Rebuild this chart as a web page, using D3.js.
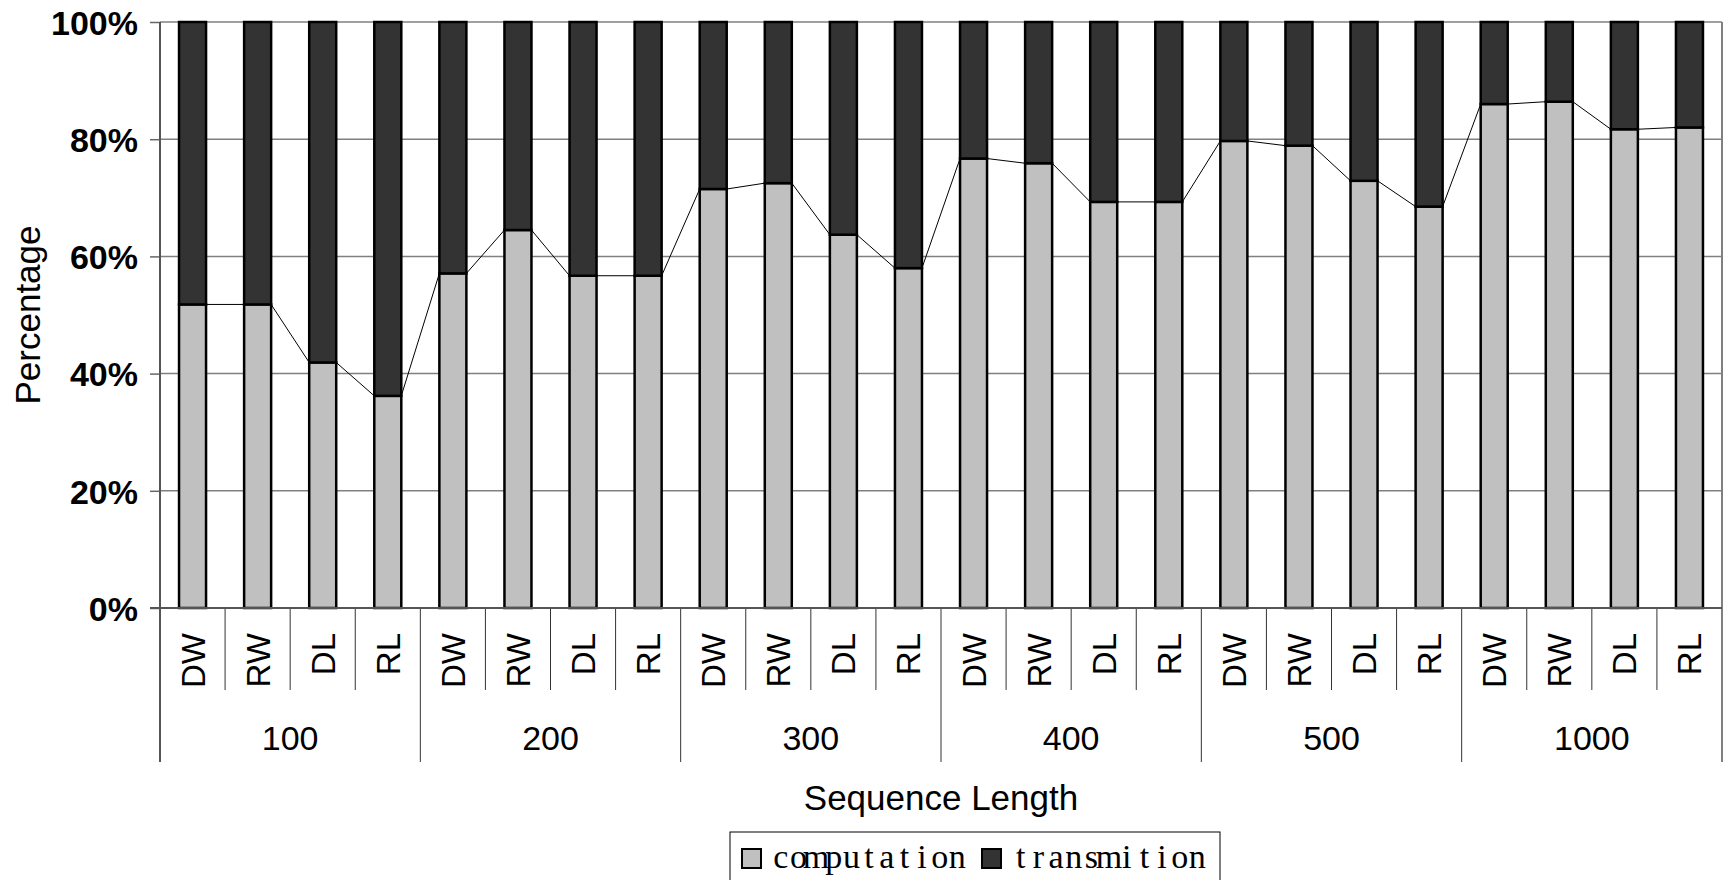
<!DOCTYPE html>
<html>
<head>
<meta charset="utf-8">
<script src="https://cdn.jsdelivr.net/npm/d3@7"></script>
<style>
  html, body { margin: 0; padding: 0; background: #fff; overflow: hidden; }
  svg { display: block; }
</style>
</head>
<body>
<svg id="chart" width="1728" height="880"></svg>
<script>
// ---- data ----
const groups = ["100", "200", "300", "400", "500", "1000"];
const methods = ["DW", "RW", "DL", "RL"];
// computation share (%) per group, in method order DW, RW, DL, RL
const computation100  = [51.8, 51.8, 41.9, 36.2];
const computation200  = [57.1, 64.5, 56.7, 56.7];
const computation300  = [71.5, 72.5, 63.7, 58.0];
const computation400  = [76.7, 75.9, 69.3, 69.3];
const computation500  = [79.7, 78.9, 72.9, 68.5];
const computation1000 = [86.0, 86.4, 81.7, 82.0];
const yTicks = [0, 20, 40, 60, 80, 100];
const seriesNames = ["computation", "transmition"];
const seriesColors = ["#c0c0c0", "#333333"];

const compByGroup = [computation100, computation200, computation300, computation400, computation500, computation1000];
const rows = [];
groups.forEach((g, gi) => methods.forEach((m, mi) => {
  const c = compByGroup[gi][mi];
  rows.push({ key: g + "-" + m, group: g, method: m, computation: c, transmition: 100 - c });
}));

// ---- layout ----
const pLeft = 160, pRight = 1722, pTop = 22, pBottom = 608;
const svg = d3.select("#chart");
const x = d3.scaleBand().domain(rows.map(d => d.key)).range([pLeft, pRight]).padding(0);
const y = d3.scaleLinear().domain([0, 100]).range([pBottom, pTop]);
const barW = x.bandwidth() * 0.415;
const bx = d => x(d.key) + (x.bandwidth() - barW) / 2;

const stack = d3.stack().keys(seriesNames)(rows);

// gridlines
svg.append("g").selectAll("line").data(yTicks.filter(t => t > 0)).join("line")
  .attr("x1", pLeft).attr("x2", pRight)
  .attr("y1", d => y(d)).attr("y2", d => y(d))
  .attr("stroke", "#808080").attr("stroke-width", 1.5);

// right border of plot (extends down as group separator)
svg.append("line").attr("x1", pRight).attr("x2", pRight).attr("y1", pTop).attr("y2", 762)
  .attr("stroke", "#808080").attr("stroke-width", 2);

// y axis
const yAxis = d3.axisLeft(y).tickValues(yTicks).tickFormat(d => d + "%").tickSize(10).tickPadding(12);
const ya = svg.append("g").attr("transform", `translate(${pLeft},0)`).call(yAxis);
ya.select(".domain").remove();
ya.selectAll(".tick line").attr("stroke", "#666").attr("stroke-width", 1.5);
ya.selectAll(".tick text")
  .attr("font-family", "'Liberation Sans', Arial, sans-serif")
  .attr("font-size", 34).attr("font-weight", "bold").attr("fill", "#000")
  .attr("dy", "0.36em");

// left axis line (extends below to group separator bottom)
svg.append("line").attr("x1", pLeft).attr("x2", pLeft).attr("y1", pTop).attr("y2", 762)
  .attr("stroke", "#555").attr("stroke-width", 2);

// category separators
const catSep = rows.map((d, i) => i).filter(i => i > 0);
svg.append("g").selectAll("line").data(catSep).join("line")
  .attr("x1", i => x(rows[i].key)).attr("x2", i => x(rows[i].key))
  .attr("y1", pBottom).attr("y2", i => (i % 4 === 0 ? 762 : 690))
  .attr("stroke", "#333").attr("stroke-width", 1);

// bars
svg.append("g").selectAll("g").data(stack).join("g")
  .attr("fill", (d, i) => seriesColors[i])
  .selectAll("rect").data(d => d).join("rect")
  .attr("x", d => bx(d.data))
  .attr("width", barW)
  .attr("y", d => y(d[1]))
  .attr("height", d => y(d[0]) - y(d[1]))
  .attr("stroke", "#000").attr("stroke-width", 2.5);

// series lines connecting top of computation segments
const segs = rows.slice(0, -1).map((d, i) => [d, rows[i + 1]]);
svg.append("g").selectAll("line").data(segs).join("line")
  .attr("x1", s => bx(s[0]) + barW).attr("y1", s => y(s[0].computation))
  .attr("x2", s => bx(s[1])).attr("y2", s => y(s[1].computation))
  .attr("stroke", "#000").attr("stroke-width", 1);

// bottom axis line
svg.append("line").attr("x1", pLeft - 10).attr("x2", pRight).attr("y1", pBottom).attr("y2", pBottom)
  .attr("stroke", "#555").attr("stroke-width", 2);

// category labels (rotated)
svg.append("g").selectAll("text").data(rows).join("text")
  .attr("transform", d => `translate(${x(d.key) + x.bandwidth() / 2 + 12},633) rotate(-90)`)
  .attr("text-anchor", "end")
  .attr("font-family", "'Liberation Sans', Arial, sans-serif")
  .attr("font-size", 33).attr("fill", "#000")
  .text(d => d.method);

// group labels
svg.append("g").selectAll("text").data(groups).join("text")
  .attr("x", g => {
    const ks = rows.filter(r => r.group === g);
    return (x(ks[0].key) + x(ks[ks.length - 1].key) + x.bandwidth()) / 2;
  })
  .attr("y", 750)
  .attr("text-anchor", "middle")
  .attr("font-family", "'Liberation Sans', Arial, sans-serif")
  .attr("font-size", 34).attr("fill", "#000")
  .text(g => g);

// axis titles
svg.append("text")
  .attr("x", (pLeft + pRight) / 2).attr("y", 810)
  .attr("text-anchor", "middle")
  .attr("font-family", "'Liberation Sans', Arial, sans-serif")
  .attr("font-size", 35).attr("fill", "#000")
  .text("Sequence Length");

svg.append("text")
  .attr("transform", `translate(40,${(pTop + pBottom) / 2}) rotate(-90)`)
  .attr("text-anchor", "middle")
  .attr("font-family", "'Liberation Sans', Arial, sans-serif")
  .attr("font-size", 35).attr("fill", "#000")
  .text("Percentage");

// legend
const lg = svg.append("g");
lg.append("rect").attr("x", 730).attr("y", 832).attr("width", 490).attr("height", 70)
  .attr("fill", "#fff").attr("stroke", "#000").attr("stroke-width", 1);
const legendPos = [{ sx: 742, tx: 772 }, { sx: 982, tx: 1012 }];
const pitch = 17.65;
seriesNames.forEach((n, i) => {
  lg.append("rect").attr("x", legendPos[i].sx).attr("y", 849).attr("width", 19).attr("height", 19)
    .attr("fill", seriesColors[i]).attr("stroke", "#000").attr("stroke-width", 2);
  // monospaced serif look: each character centred in a fixed-width cell
  const xs = Array.from(n, (c, k) => (legendPos[i].tx + pitch / 2 + k * pitch).toFixed(1)).join(" ");
  lg.append("text").attr("x", xs).attr("y", 868)
    .attr("text-anchor", "middle")
    .attr("font-family", "'Liberation Serif', 'Times New Roman', serif")
    .attr("font-size", 34).attr("fill", "#000")
    .text(n);
});
</script>
</body>
</html>
